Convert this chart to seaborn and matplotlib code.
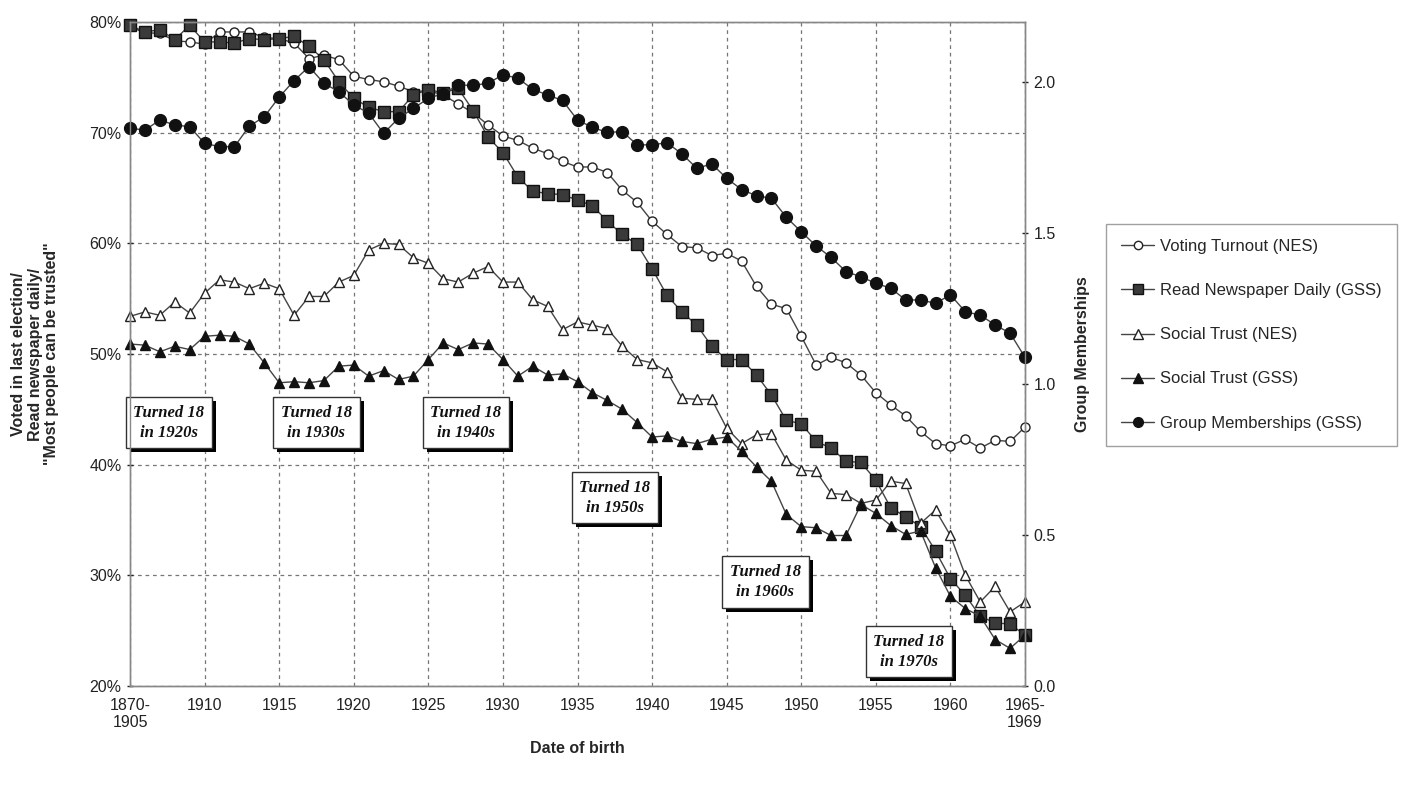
import matplotlib
matplotlib.use("Agg")
import matplotlib.pyplot as plt
import seaborn as sns
import pandas as pd
from matplotlib.lines import Line2D
from matplotlib.patches import Rectangle
from matplotlib.transforms import IdentityTransform
from matplotlib.ticker import FuncFormatter

years = list(range(1905, 1966))

voting_nes = [79.6, 79.0, 79.0, 78.3, 78.2, 78.0, 79.1, 79.1, 79.1, 78.6,
              78.5, 78.1, 76.7, 77.0, 76.6, 75.1, 74.8, 74.6, 74.2, 73.7,
              73.8, 73.4, 72.6, 71.8, 70.7, 69.7, 69.3, 68.6, 68.1, 67.4,
              66.9, 66.9, 66.4, 64.8, 63.7, 62.0, 60.8, 59.7, 59.6, 58.9,
              59.1, 58.4, 56.1, 54.5, 54.1, 51.6, 49.0, 49.7, 49.2, 48.1,
              46.5, 45.4, 44.4, 43.0, 41.9, 41.7, 42.3, 41.5, 42.2, 42.1,
              43.4]
newspaper_gss = [79.7, 79.1, 79.3, 78.4, 79.7, 78.2, 78.2, 78.1, 78.5, 78.4,
                 78.5, 78.7, 77.8, 76.6, 74.6, 73.1, 72.3, 71.9, 71.9, 73.4,
                 73.9, 73.6, 74.0, 72.0, 69.6, 68.2, 66.0, 64.7, 64.5, 64.4,
                 63.9, 63.4, 62.0, 60.8, 59.9, 57.7, 55.3, 53.8, 52.6, 50.7,
                 49.5, 49.5, 48.1, 46.3, 44.0, 43.7, 42.1, 41.5, 40.3, 40.2,
                 38.6, 36.1, 35.3, 34.4, 32.2, 29.7, 28.2, 26.3, 25.7, 25.6,
                 24.6]
trust_nes = [53.4, 53.8, 53.5, 54.7, 53.7, 55.5, 56.7, 56.5, 55.9, 56.4,
             55.9, 53.5, 55.2, 55.2, 56.5, 57.1, 59.4, 60.0, 59.9, 58.7,
             58.2, 56.8, 56.5, 57.3, 57.9, 56.5, 56.5, 54.9, 54.3, 52.2,
             52.9, 52.6, 52.3, 50.7, 49.5, 49.2, 48.4, 46.0, 45.9, 45.9,
             43.3, 41.9, 42.7, 42.8, 40.4, 39.5, 39.4, 37.4, 37.3, 36.5,
             36.8, 38.5, 38.3, 34.7, 35.9, 33.6, 30.0, 27.6, 29.0, 26.7,
             27.6]
trust_gss = [50.9, 50.8, 50.2, 50.7, 50.4, 51.6, 51.7, 51.6, 50.9, 49.2,
             47.4, 47.5, 47.4, 47.6, 48.9, 49.0, 48.0, 48.5, 47.7, 48.0,
             49.5, 51.0, 50.4, 51.0, 50.9, 49.5, 48.0, 48.9, 48.1, 48.2,
             47.5, 46.5, 45.8, 45.0, 43.8, 42.5, 42.6, 42.1, 41.9, 42.3,
             42.5, 41.2, 39.8, 38.5, 35.5, 34.4, 34.3, 33.6, 33.6, 36.4,
             35.6, 34.5, 33.7, 34.0, 30.7, 28.1, 27.0, 26.3, 24.2, 23.4,
             24.6]
groups_gss = [1.848, 1.842, 1.875, 1.859, 1.853, 1.798, 1.787, 1.787, 1.855, 1.886,
              1.951, 2.006, 2.052, 1.997, 1.969, 1.925, 1.898, 1.831, 1.881, 1.914,
              1.947, 1.963, 1.991, 1.990, 1.997, 2.025, 2.014, 1.977, 1.958, 1.940,
              1.875, 1.851, 1.834, 1.837, 1.793, 1.793, 1.800, 1.763, 1.715, 1.730,
              1.682, 1.645, 1.624, 1.616, 1.553, 1.505, 1.458, 1.420, 1.373, 1.356,
              1.334, 1.318, 1.279, 1.279, 1.268, 1.296, 1.240, 1.229, 1.196, 1.169,
              1.089]

tick_years = list(range(1905, 1966, 5))
tick_labels = ["1870-\n1905"] + [str(y) for y in tick_years[1:-1]] + ["1965-\n1969"]

notes = ["Turned 18\nin 1920s", "Turned 18\nin 1930s", "Turned 18\nin 1940s",
         "Turned 18\nin 1950s", "Turned 18\nin 1960s", "Turned 18\nin 1970s"]
note_x = [1907.6, 1917.5, 1927.5, 1937.5, 1947.6, 1957.2]
note_y = [43.8, 43.8, 43.8, 37.0, 29.4, 23.1]

df = pd.DataFrame({"year": years, "voting": voting_nes, "paper": newspaper_gss,
                   "trust_nes": trust_nes, "trust_gss": trust_gss, "groups": groups_gss})

sns.set_theme(style="white")
plt.rcParams["font.family"] = ["Liberation Sans", "DejaVu Sans"]

fig = plt.figure(figsize=(14.02, 7.90), dpi=100)
ax = fig.add_axes([130 / 1402, 1 - 686 / 790, (1025 - 130) / 1402, (686 - 22) / 790])
ax2 = ax.twinx()

line_kw = dict(color="#444444", linewidth=1.0, clip_on=False)
sns.lineplot(data=df, x="year", y="voting", ax=ax, marker="o", markersize=6.5,
             markerfacecolor="white", markeredgecolor="#222222", markeredgewidth=1.0, **line_kw)
sns.lineplot(data=df, x="year", y="paper", ax=ax, marker="s", markersize=8,
             markerfacecolor="#3a3a3a", markeredgecolor="#111111", markeredgewidth=1.0, **line_kw)
sns.lineplot(data=df, x="year", y="trust_nes", ax=ax, marker="^", markersize=7.5,
             markerfacecolor="white", markeredgecolor="#222222", markeredgewidth=1.0, **line_kw)
sns.lineplot(data=df, x="year", y="trust_gss", ax=ax, marker="^", markersize=7.5,
             markerfacecolor="#111111", markeredgecolor="#111111", markeredgewidth=1.0, **line_kw)
sns.lineplot(data=df, x="year", y="groups", ax=ax2, marker="o", markersize=8.5,
             markerfacecolor="#111111", markeredgecolor="#111111", markeredgewidth=1.0, **line_kw)

ax.set_xlim(1905, 1965)
ax.set_ylim(20, 80)
ax2.set_ylim(0, 2.2)
ax.set_xticks(tick_years)
ax.set_xticklabels(tick_labels)
ax.set_yticks(range(20, 81, 10))
ax.yaxis.set_major_formatter(FuncFormatter(lambda v, p: f"{v:.0f}%"))
ax2.set_yticks([0, 0.5, 1.0, 1.5, 2.0])
ax2.yaxis.set_major_formatter(FuncFormatter(lambda v, p: f"{v:.1f}"))

ax.grid(True, axis="both", color="#777777", linestyle=(0, (3, 3)), linewidth=0.9)
ax2.grid(False)
ax.set_axisbelow(True)
for a in (ax, ax2):
    for s in a.spines.values():
        s.set_color("#888888")
        s.set_linewidth(1.0)
ax.tick_params(axis="both", labelsize=11.5, colors="#222222", length=5, width=1, direction="inout")
ax2.tick_params(axis="y", labelsize=11.5, colors="#222222", length=5, width=1, direction="inout")
ax.tick_params(axis="x", pad=6)

ax.set_xlabel("Date of birth", fontsize=11.5, fontweight="bold", labelpad=8)
ax.set_ylabel("Voted in last election/\nRead newspaper daily/\n\"Most people can be trusted\"",
              fontsize=11.5, fontweight="bold", labelpad=22, linespacing=1.1)
ax2.set_ylabel("Group Memberships", fontsize=11.5, fontweight="bold", labelpad=14)

# "Turned 18" boxes with a drop shadow
boxes = []
for txt, x, y in zip(notes, note_x, note_y):
    ann = ax.annotate(txt, xy=(x, y), xycoords="data", ha="center", va="center",
                      fontsize=12, fontweight="bold", fontstyle="italic",
                      family=["Liberation Serif", "DejaVu Serif"], linespacing=1.35,
                      color="#111111", zorder=7,
                      bbox=dict(boxstyle="square,pad=0.45", fc="white", ec="#333333", lw=1))
    boxes.append(ann)

fig.canvas.draw()
renderer = fig.canvas.get_renderer()
for ann in boxes:
    bb = ann.get_bbox_patch().get_window_extent(renderer)
    shadow = Rectangle((bb.x0 + 4, bb.y0 - 4), bb.width, bb.height, transform=IdentityTransform(),
                       facecolor="black", edgecolor="none", zorder=6, clip_on=False)
    ax.add_patch(shadow)

handles = [
    Line2D([], [], color="#444444", lw=1, marker="o", markersize=6, markerfacecolor="white", markeredgecolor="#222222"),
    Line2D([], [], color="#444444", lw=1, marker="s", markersize=7, markerfacecolor="#3a3a3a", markeredgecolor="#111111"),
    Line2D([], [], color="#444444", lw=1, marker="^", markersize=6.5, markerfacecolor="white", markeredgecolor="#222222"),
    Line2D([], [], color="#444444", lw=1, marker="^", markersize=6.5, markerfacecolor="#111111", markeredgecolor="#111111"),
    Line2D([], [], color="#444444", lw=1, marker="o", markersize=7, markerfacecolor="#111111", markeredgecolor="#111111"),
]
labels = ["Voting Turnout (NES)", "Read Newspaper Daily (GSS)", "Social Trust (NES)",
          "Social Trust (GSS)", "Group Memberships (GSS)"]
leg = fig.legend(handles, labels, loc="upper left", bbox_to_anchor=(1106 / 1402, 1 - 224 / 790),
                 frameon=True, fancybox=False, fontsize=12, handlelength=2.0, handletextpad=0.35,
                 labelspacing=1.75, borderpad=0.9, borderaxespad=0)
leg.get_frame().set_edgecolor("#888888")
leg.get_frame().set_linewidth(1.0)

fig.savefig("out.png", dpi=100)
